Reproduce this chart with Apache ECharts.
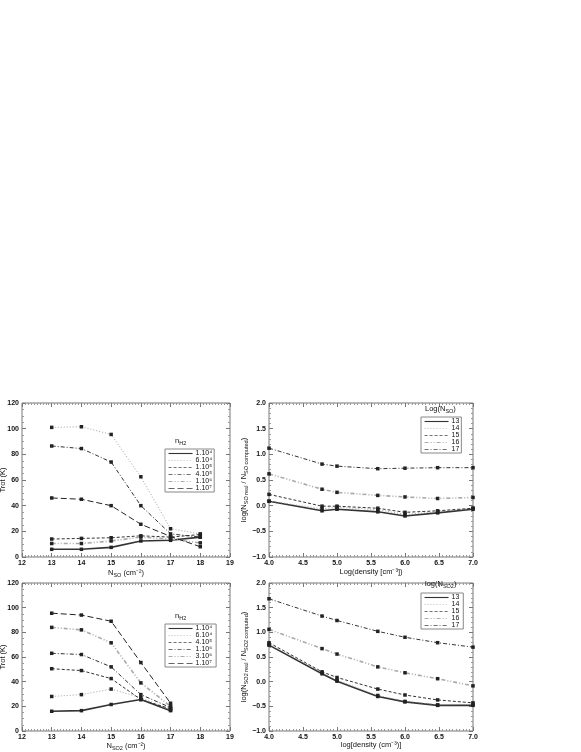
<!DOCTYPE html>
<html>
<head>
<meta charset="utf-8">
<script src="https://cdn.jsdelivr.net/npm/echarts@6/dist/echarts.min.js"></script>
<style>
  html, body { margin: 0; padding: 0; background: #fff; }
  #chart { width: 581px; height: 752px; }
</style>
</head>
<body>
<div id="chart"></div>
<script>
const fontSans = "'Liberation Sans', Arial, Helvetica, sans-serif"

// x values
const nSO = [13, 14, 15, 16, 17, 18]
const nSO2 = [13, 14, 15, 16, 17]
const logDens = [4.0, 4.78, 5.0, 5.6, 6.0, 6.48, 7.0]

// top left: Trot vs N(SO), one line per density
const soNames = ['1.10⁴', '6.10⁴', '1.10⁵', '4.10⁵', '1.10⁶', '1.10⁷']
const soTrot = [
  [6, 6, 7.5, 12.5, 13, 15.5],
  [101, 101.5, 95.5, 62.5, 22, 18],
  [14, 14.5, 15, 16.5, 15.5, 17.5],
  [86.5, 84.5, 74, 40, 18, 15.5],
  [10.5, 10.5, 12.5, 15.5, 14, 11],
  [46, 45, 40, 25.5, 16, 8],
]

// bottom left: Trot vs N(SO2)
const so2Names = ['1.10⁴ ', '6.10⁴ ', '4.10⁵ ', '1.10⁶ ', '3.10⁶ ', '1.10⁷ ']
const so2Trot = [
  [16, 16.5, 21.5, 25.5, 16.5],
  [28, 29.5, 34, 27, 17],
  [50.5, 49, 42.5, 25.5, 18],
  [63, 62, 52, 29.5, 19],
  [84, 82, 71.5, 39, 20],
  [95.5, 94, 89, 55.5, 22.5],
]

// right panels: log(N real / N computed) vs density, one line per log(N)
const colNames = ['13', '14', '15', '16', '17']
const colNames2 = ['13 ', '14 ', '15 ', '16 ', '17 ']
const soRatio = [
  [0.085, -0.10, -0.07, -0.12, -0.20, -0.14, -0.07],
  [0.09, -0.06, -0.03, -0.08, -0.17, -0.12, -0.05],
  [0.22, -0.01, -0.01, -0.05, -0.13, -0.10, -0.05],
  [0.62, 0.32, 0.26, 0.20, 0.17, 0.14, 0.16],
  [1.12, 0.81, 0.77, 0.72, 0.73, 0.74, 0.74],
]
const so2Ratio = [
  [0.74, 0.16, 0.01, -0.30, -0.41, -0.48, -0.48],
  [0.76, 0.18, 0.03, -0.28, -0.40, -0.47, -0.46],
  [0.79, 0.20, 0.085, -0.15, -0.27, -0.37, -0.43],
  [1.06, 0.67, 0.56, 0.30, 0.18, 0.06, -0.085],
  [1.68, 1.33, 1.24, 1.02, 0.90, 0.79, 0.70],
]

// line looks
const styles = {
  solid: { type: 'solid', width: 1.6, color: '#333' },
  dotted: { type: [1, 2], width: 0.8, color: '#888' },
  dashed: { type: [3, 2], width: 1, color: '#333' },
  dashDot: { type: [4, 2, 1, 2], width: 1, color: '#333' },
  grayDashDot: { type: [4, 2, 1, 2, 1, 2], width: 1.6, color: '#aaa' },
  longDash: { type: [6, 3], width: 1, color: '#222' },
}
const soStyles = ['solid', 'dotted', 'dashed', 'dashDot', 'grayDashDot', 'longDash']
const so2Styles = ['solid', 'dotted', 'dashed', 'dashDot', 'grayDashDot', 'longDash']
const colStyles = ['solid', 'dotted', 'dashed', 'grayDashDot', 'dashDot']

const grids = [
  { left: 22, top: 403, width: 208, height: 154 },
  { left: 269, top: 403, width: 204, height: 154 },
  { left: 22, top: 583, width: 208, height: 148 },
  { left: 269, top: 583, width: 204, height: 148 },
].map(g => ({ ...g, outerBoundsMode: 'none', show: true, borderColor: '#777', borderWidth: 1, backgroundColor: 'transparent' }))

const labelStyle = { color: '#111', fontSize: 7, fontFamily: fontSans, fontWeight: 'bold' }
const minus = v => String(v).replace('-', '−')

const rich = {
  n: { fontSize: 7.5, fontFamily: fontSans, color: '#111', fontWeight: 'normal' },
  s: { fontSize: 5.5, fontFamily: fontSans, color: '#111', fontWeight: 'normal', padding: [4, 0, 0, 0] },
}

function axisPair(kind, gridIndex, opts) {
  const base = {
    gridIndex,
    type: 'value',
    min: opts.min,
    max: opts.max,
    interval: opts.interval,
    axisLine: { show: false, onZero: false },
    splitLine: { show: false },
    axisTick: { show: true, inside: true, length: 4, lineStyle: { color: '#777' } },
    minorTick: { show: true, splitNumber: opts.minor, length: 2, lineStyle: { color: '#999' } },
  }
  const main = {
    ...base,
    position: kind === 'x' ? 'bottom' : 'left',
    axisLabel: { ...labelStyle, margin: 3, formatter: opts.fmt },
    name: opts.name,
    nameLocation: 'middle',
    nameGap: opts.nameGap,
    nameMoveOverlap: false,
    nameRotate: kind === 'y' ? 90 : 0,
    nameTextStyle: { rich },
  }
  const mirror = {
    ...base,
    position: kind === 'x' ? 'top' : 'right',
    axisLabel: { show: false },
  }
  return [main, mirror]
}

const xAxis = [
  ...axisPair('x', 0, { min: 12, max: 19, interval: 1, minor: 10, name: '{n|N}{s|SO}{n| (cm⁻²)}', nameGap: 11 }),
  ...axisPair('x', 1, { min: 4, max: 7, interval: 0.5, minor: 10, fmt: v => v.toFixed(1), name: '{n|Log(density [cm⁻³])}', nameGap: 11 }),
  ...axisPair('x', 2, { min: 12, max: 19, interval: 1, minor: 10, name: '{n|N}{s|SO2}{n| (cm⁻²)}', nameGap: 10 }),
  ...axisPair('x', 3, { min: 4, max: 7, interval: 0.5, minor: 10, fmt: v => v.toFixed(1), name: '{n|log[density (cm⁻³)]}', nameGap: 10 }),
]
const yAxis = [
  ...axisPair('y', 0, { min: 0, max: 120, interval: 20, minor: 4, name: '{n|Trot (K)}', nameGap: 15 }),
  ...axisPair('y', 1, { min: -1, max: 2, interval: 0.5, minor: 5, fmt: v => minus(v.toFixed(1)), name: '{n|log(N}{s|SO real}{n| / N}{s|SO computed}{n|)}', nameGap: 20 }),
  ...axisPair('y', 2, { min: 0, max: 120, interval: 20, minor: 4, name: '{n|Trot (K)}', nameGap: 15 }),
  ...axisPair('y', 3, { min: -1, max: 2, interval: 0.5, minor: 5, fmt: v => minus(v.toFixed(1)), name: '{n|log(N}{s|SO2 real}{n| / N}{s|SO2 computed}{n|)}', nameGap: 20 }),
]

const series = []
function addLines(panel, xs, names, values, styleKeys) {
  names.forEach((name, i) => {
    series.push({
      name: name,
      type: 'line',
      xAxisIndex: panel * 2,
      yAxisIndex: panel * 2,
      data: xs.map((x, j) => [x, values[i][j]]),
      symbol: 'rect',
      symbolSize: 3.5,
      itemStyle: { color: '#222' },
      lineStyle: styles[styleKeys[i]],
      animation: false,
    })
  })
}
addLines(0, nSO, soNames, soTrot, soStyles)
addLines(1, logDens, colNames, soRatio, colStyles)
addLines(2, nSO2, so2Names, so2Trot, so2Styles)
addLines(3, logDens, colNames2, so2Ratio, colStyles)

// legend rows: thin line samples, no symbol
const legendData = (names, styleKeys) => names.map((name, i) => ({
  name,
  lineStyle: { ...styles[styleKeys[i]], width: styles[styleKeys[i]].width * 0.7 },
}))

const legendBase = {
  orient: 'vertical',
  backgroundColor: '#fff',
  borderColor: '#888',
  borderWidth: 1,
  borderRadius: 0,
  padding: [1, 2, 0, 3],
  itemGap: 0,
  itemWidth: 24,
  itemHeight: 4,
  itemStyle: { color: 'rgba(0,0,0,0)', borderWidth: 0 },
  textStyle: { color: '#111', fontSize: 7, lineHeight: 6, fontFamily: fontSans, padding: [0, 0, 0, -2] },
}

const chart = echarts.init(document.getElementById('chart'), null, { renderer: 'canvas' })

chart.setOption({
  backgroundColor: '#fff',
  animation: false,
  grid: grids,
  xAxis,
  yAxis,
  series,
  legend: [
    { ...legendBase, left: 165, top: 449, data: legendData(soNames, soStyles) },
    { ...legendBase, left: 421, top: 417, data: legendData(colNames, colStyles) },
    { ...legendBase, left: 165, top: 624, data: legendData(so2Names, so2Styles) },
    { ...legendBase, left: 421, top: 593, data: legendData(colNames2, colStyles) },
  ],
  title: [
    { left: 175, top: 436, padding: 0, text: '{n|n}{s|H2}', textStyle: { rich } },
    { left: 425, top: 404, padding: 0, text: '{n|Log(N}{s|SO}{n|)}', textStyle: { rich } },
    { left: 175, top: 611, padding: 0, text: '{n|n}{s|H2}', textStyle: { rich } },
    { left: 425, top: 579, padding: 0, text: '{n|log(N}{s|SO2}{n|)}', textStyle: { rich } },
  ],
})
</script>
</body>
</html>
